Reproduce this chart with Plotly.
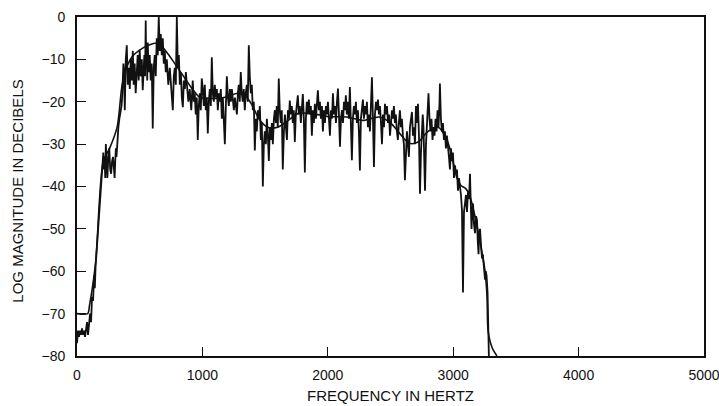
import plotly.graph_objects as go

# Short-time spectrum of a voiced speech segment (noisy trace), read as vertices
spec_freq = [0, 8, 16, 24, 32, 40, 48, 56, 64, 72, 80, 88, 96, 104, 112, 120, 128, 136, 142, 148,
             210, 215, 220, 225, 230, 235, 242, 250, 257, 265, 272, 280, 287, 295, 300, 305,
             310, 315, 322, 330, 338, 345, 350, 355, 360, 365, 370, 375,
             381, 389, 397, 405, 413, 421, 429, 437, 445, 452, 460, 468, 476, 484, 492, 500,
             508, 517, 524, 530, 537, 543, 548, 552, 556, 560, 564, 572, 580, 588, 596, 604,
             612, 620, 628, 636, 644, 652, 660, 668, 676, 684, 692, 700, 708, 716, 728, 740,
             752, 764, 772, 780, 788, 796, 804, 812, 820, 828, 836, 844, 852, 860, 868, 876,
             888, 899, 911, 923, 931, 939, 947, 955, 963, 971, 979, 987, 995,
             1003, 1011, 1019, 1027, 1035, 1043, 1051, 1059, 1067, 1075, 1083, 1091, 1099,
             1107, 1115, 1123, 1131, 1139, 1147, 1155, 1163, 1171, 1179, 1187, 1195, 1203,
             1211, 1219, 1227, 1235, 1243, 1251, 1259, 1267, 1275, 1283, 1290, 1298, 1306,
             1314, 1322, 1330, 1338, 1346, 1354, 1362, 1370, 1378, 1386, 1394, 1402, 1410,
             1418, 1426, 1434, 1442, 1450, 1458, 1466, 1474, 1482, 1490, 1498, 1506, 1514,
             1522, 1530, 1538, 1546, 1554, 1562, 1570, 1578, 1586, 1593, 1601, 1609, 1617,
             1625, 1633, 1641, 1650, 1658,
             1666, 1674, 1682, 1690, 1697, 1705, 1713, 1721, 1729, 1737, 1745, 1753, 1761,
             1769, 1777, 1785, 1793, 1801, 1809, 1817, 1825, 1833, 1841, 1849, 1857, 1865,
             1873, 1881, 1889, 1897, 1905, 1913, 1921, 1929, 1937, 1945, 1953, 1961, 1969,
             1977, 1985, 1993, 2001, 2009, 2017, 2025, 2033, 2041, 2049, 2057, 2065, 2073,
             2081, 2089, 2097, 2105, 2113, 2121, 2129, 2137, 2144, 2152, 2160, 2168, 2176,
             2184, 2192, 2200, 2208, 2216, 2224, 2232, 2240, 2248, 2256, 2264, 2272, 2280,
             2288, 2296, 2304, 2312, 2320, 2328, 2336, 2344, 2352, 2360, 2368, 2376, 2384,
             2392, 2400, 2408, 2416, 2424, 2432, 2440, 2448, 2456, 2464, 2472, 2480, 2488,
             2496, 2504, 2512, 2520,
             2527, 2535, 2543, 2551, 2559, 2567, 2575, 2583, 2591, 2599, 2607, 2615, 2623,
             2631, 2639, 2647, 2655, 2663, 2671, 2679, 2687, 2695, 2703, 2711, 2719, 2727,
             2735, 2743, 2751, 2757, 2763, 2769, 2775, 2783, 2791, 2797, 2803, 2811, 2819,
             2827, 2835, 2843, 2851, 2859, 2867, 2875, 2883, 2891, 2894, 2902, 2910, 2918,
             2926, 2934, 2942, 2950, 2958, 2966, 2974, 2982, 2990, 2998, 3006, 3014, 3022,
             3030, 3038, 3046, 3054, 3062, 3070, 3078, 3086, 3094, 3102, 3110, 3118, 3126,
             3134, 3140, 3146, 3152, 3158, 3166, 3174, 3182, 3190, 3196, 3202, 3208, 3214,
             3222, 3230, 3236, 3242, 3248, 3254, 3260, 3266, 3274, 3278, 3282, 3286]
spec_db = [-77, -74, -75.5, -74, -75, -73.5, -75, -74, -75.5, -74, -72, -75, -73, -70, -72, -66, -67, -61, -64, -59,
           -32, -36, -33, -38, -30, -34, -38, -33, -31, -36, -37, -34, -33, -36, -38,
           -34, -31, -33, -29, -26, -24, -23, -22, -21, -19, -14, -11, -13,
           -22, -10, -6.7, -16, -12, -17, -10, -15, -8, -16, -11, -18, -13, -9, -15, -7.7,
           -14, -10, -17.3, -11, -9, -14, -0.8, -12, -7, -15, -6, -13, -9, -15, -11, -26.3,
           -12, -9, -14, -5, -9, 0, -8, -4, -9, -5, -11, -8, -13, -10, -16, -12,
           -18, -22, -14, -12, -16, 0, -12, -9, -16, -13, -19, -21.3, -15, -17, -13, -16,
           -20, -17, -22, -15, -20, -18, -23, -19, -29, -21, -18, -22, -14.5,
           -17, -21, -16, -22, -19, -27.5, -20, -17, -21, -9.5, -18, -20, -16,
           -19, -17, -22, -18, -20, -17, -24, -19, -23, -30, -21, -14, -19,
           -21, -17, -20, -17, -19, -22, -19, -21, -23, -18, -16, -20, -13,
           -18, -20, -17, -22, -18, -16, -20, -6.7, -14, -18, -16, -22, -20,
           -31.5, -24, -27, -22, -24, -21, -29, -25, -40, -30, -27, -30, -24,
           -28, -34, -26, -29, -25, -30, -24, -22, -25, -21, -26, -14.5, -22,
           -25, -22, -36, -27, -23,
           -26, -29, -22, -24, -19.7, -23, -21, -25, -22, -29.5, -23, -21, -18.5,
           -23, -21, -25, -20, -18.2, -24, -36.7, -24, -20, -23, -19.5, -23, -21,
           -28, -22, -25, -20.5, -24, -21, -17.3, -22, -20, -24, -21, -27, -22,
           -25, -21, -23, -20, -24, -28, -22, -24, -18, -23, -21, -25, -20,
           -16.9, -23, -30.6, -24, -22, -25, -20, -22, -18.5, -23, -20, -24, -16.5,
           -25, -33.8, -24, -21, -23, -20, -25, -22, -27, -36.2, -24, -21, -19.5,
           -24, -21, -23, -20, -26, -23, -27, -22, -14.2, -24, -35.4, -23, -20,
           -22, -19.5, -23, -21, -25, -30, -23, -26, -20.5, -23, -21, -25, -23,
           -28, -25, -22, -24,
           -21, -25, -23, -27, -29, -25, -22, -26, -24, -28, -30, -38.5, -30,
           -27, -30, -33, -26, -24, -22.4, -28, -26, -30, -21, -25, -20.5, -28,
           -41.7, -32, -27, -23, -26, -33, -41, -30, -25, -21, -18, -24, -27,
           -24, -29, -26, -28, -24, -27, -22, -26, -20, -15.7, -24, -27, -25,
           -29, -27, -31, -28, -30, -33, -36, -31, -34, -32, -38, -35, -37,
           -36, -41, -38, -40, -42, -45.6, -65, -46, -44, -42, -46, -41, -43,
           -37, -44, -50, -46, -44, -49, -51, -47, -48, -53, -56, -51, -50,
           -54, -57, -56, -58, -60, -62, -60, -61, -65, -72, -80, -82]

# Smoothed spectral envelope
env_freq = [0, 85, 100, 148, 210, 260, 320, 360, 400, 450, 500, 560, 620, 660,
            720, 780, 850, 920, 980, 1050, 1120, 1200, 1280, 1340, 1400, 1450,
            1520, 1600, 1680, 1760, 1880, 2000, 2150, 2280, 2410, 2500, 2560,
            2650, 2720, 2800, 2880, 2950, 2990, 3030, 3060, 3100, 3130, 3175,
            3212, 3253, 3270, 3278, 3310, 3349]
env_db = [-70, -70, -68, -58, -34, -31, -26, -16, -11.5, -9, -7.8, -6.8, -6.2, -6.5,
          -8.5, -11, -14, -17, -19, -19.2, -19.2, -18.8, -18, -18.5, -21, -24,
          -26, -26, -24.5, -22.8, -22.8, -23.5, -23.6, -24.4, -23.6, -25, -27,
          -29.8, -29.5, -27, -26, -29, -33, -38, -39.7, -40.5, -42, -47.2,
          -52.7, -59.8, -66, -74, -78, -80]

x_ticks = [0, 1000, 2000, 3000, 4000, 5000]
y_ticks = [0, -10, -20, -30, -40, -50, -60, -70, -80]

INK = "#111111"
FONT = "Liberation Sans, Arial, Helvetica, sans-serif"

fig = go.Figure()
fig.add_trace(go.Scatter(x=spec_freq, y=spec_db, mode="lines",
                         line=dict(color=INK, width=1.8), hoverinfo="skip"))
fig.add_trace(go.Scatter(x=env_freq, y=env_db, mode="lines",
                         line=dict(color=INK, width=1.6, shape="spline", smoothing=0.8),
                         hoverinfo="skip"))

axis_common = dict(showgrid=False, zeroline=False, showline=True, linecolor=INK,
                   linewidth=1.7, mirror=True, ticks="inside", ticklen=9,
                   tickwidth=1.2, tickcolor=INK, ticklabeloverflow="allow",
                   automargin=False,
                   tickfont=dict(family=FONT, size=14, color=INK))

fig.update_xaxes(range=[0, 5000], tickvals=x_ticks,
                 ticktext=[str(v) for v in x_ticks], ticklabelstandoff=5, **axis_common)
fig.update_yaxes(range=[-80, 0], tickvals=y_ticks,
                 ticktext=["0" if v == 0 else "\u2212" + str(-v) for v in y_ticks],
                 ticklabelstandoff=7, **axis_common)

fig.add_annotation(text="FREQUENCY IN HERTZ", xref="paper", yref="paper",
                   x=0.5, y=-0.117, xanchor="center", yanchor="middle",
                   showarrow=False, font=dict(family=FONT, size=15, color=INK))
fig.add_annotation(text="LOG MAGNITUDE IN DECIBELS", xref="paper", yref="paper",
                   x=-0.094, y=0.485, xanchor="center", yanchor="middle",
                   textangle=-90, showarrow=False,
                   font=dict(family=FONT, size=15, color=INK))

fig.update_layout(width=719, height=406, showlegend=False,
                  margin=dict(l=77, r=15, t=17, b=50, autoexpand=False),
                  paper_bgcolor="white", plot_bgcolor="white")

fig.write_html("out.html")
